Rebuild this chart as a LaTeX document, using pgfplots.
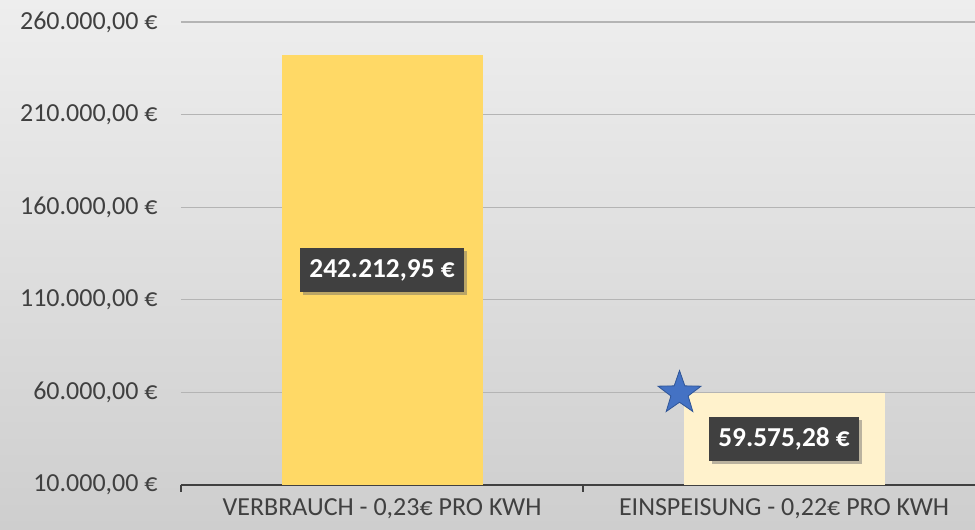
\documentclass[border=0pt]{standalone}
\usepackage{fontspec}
\setmainfont{Carlito}
\usepackage{pgfplots}
\pgfplotsset{compat=1.18}
\usetikzlibrary{shadows}

\definecolor{bgtop}{RGB}{238,238,238}
\definecolor{bgbot}{RGB}{206,206,206}
\definecolor{txt}{RGB}{64,64,64}
\definecolor{verb}{RGB}{255,217,102}
\definecolor{einsp}{RGB}{255,242,204}
\definecolor{gridc}{RGB}{180,180,180}
\definecolor{lbl}{RGB}{64,64,64}
\definecolor{starblue}{RGB}{68,114,196}
\definecolor{stardark}{RGB}{47,85,151}

% filled five-pointed star
\pgfdeclareplotmark{fstar}{%
  \pgfpathmoveto{\pgfpointpolar{90}{\pgfplotmarksize}}%
  \pgfpathlineto{\pgfpointpolar{126}{0.4\pgfplotmarksize}}%
  \pgfpathlineto{\pgfpointpolar{162}{\pgfplotmarksize}}%
  \pgfpathlineto{\pgfpointpolar{198}{0.4\pgfplotmarksize}}%
  \pgfpathlineto{\pgfpointpolar{234}{\pgfplotmarksize}}%
  \pgfpathlineto{\pgfpointpolar{270}{0.4\pgfplotmarksize}}%
  \pgfpathlineto{\pgfpointpolar{306}{\pgfplotmarksize}}%
  \pgfpathlineto{\pgfpointpolar{342}{0.4\pgfplotmarksize}}%
  \pgfpathlineto{\pgfpointpolar{18}{\pgfplotmarksize}}%
  \pgfpathlineto{\pgfpointpolar{54}{0.4\pgfplotmarksize}}%
  \pgfpathclose
  \pgfusepathqfillstroke}

\begin{document}
\begin{tikzpicture}
  % full background, 975x529 px at 0.75pt/px
  \shade[top color=bgtop, bottom color=bgbot] (-135.75pt,-33pt) rectangle (595.5pt,363.75pt);
  \path[use as bounding box] (-135.75pt,-33pt) rectangle (595.5pt,363.75pt);
  \begin{axis}[
      at={(0,0)}, anchor=south west,
      scale only axis,
      width=595.5pt, height=363.75pt,
      xmin=-0.5, xmax=1.475,
      ymin=10000, ymax=271880,
      ytick={10000,60000,110000,160000,210000,260000},
      yticklabels={{10.000,00 €},{60.000,00 €},{110.000,00 €},{160.000,00 €},{210.000,00 €},{260.000,00 €}},
      xtick={0,1},
      xticklabels={{VERBRAUCH - 0,23€ PRO KWH},{EINSPEISUNG - 0,22€ PRO KWH}},
      minor xtick={-0.5,0.5,1.5},
      major tick length=0pt,
      minor tick length=5pt,
      tick align=outside,
      every minor tick/.append style={draw=txt, line width=1.6pt},
      axis x line*=bottom, axis y line*=left,
      y axis line style={draw=none},
      x axis line style={draw=txt, line width=2.2pt, -},
      ymajorgrids,
      major grid style={draw=gridc, line width=0.9pt},
      ticklabel style={font=\fontsize{19.5}{22}\selectfont, text=txt},
      yticklabel style={xshift=-14pt},
      xticklabel style={yshift=-7pt},
    ]
    \addplot[ybar, bar width=0.5, bar shift=0pt, fill=verb, draw=none]
      coordinates {(0,242212.95)};
    \addplot[ybar, bar width=0.5, bar shift=0pt, fill=einsp, draw=none]
      coordinates {(1,59575.28)};
    % data labels, centred in the visible part of each bar
    \addplot[draw=none, mark=none, point meta=explicit symbolic,
      nodes near coords,
      every node near coord/.append style={anchor=center, fill=lbl, text=white,
        font=\bfseries\fontsize{20.5}{24}\selectfont, inner xsep=7pt,
        minimum height=33pt,
        drop shadow={shadow xshift=2pt, shadow yshift=-2pt, fill=black!60, opacity=0.45}}]
      coordinates {(0,126106.48) [242.212,95 €] (1,34787.64) [59.575,28 €]};
    \addplot[only marks, mark=fstar, mark size=17pt,
      mark options={fill=starblue, draw=stardark, line width=0.6pt}]
      coordinates {(0.74,59575.28)};
  \end{axis}
\end{tikzpicture}
\end{document}
